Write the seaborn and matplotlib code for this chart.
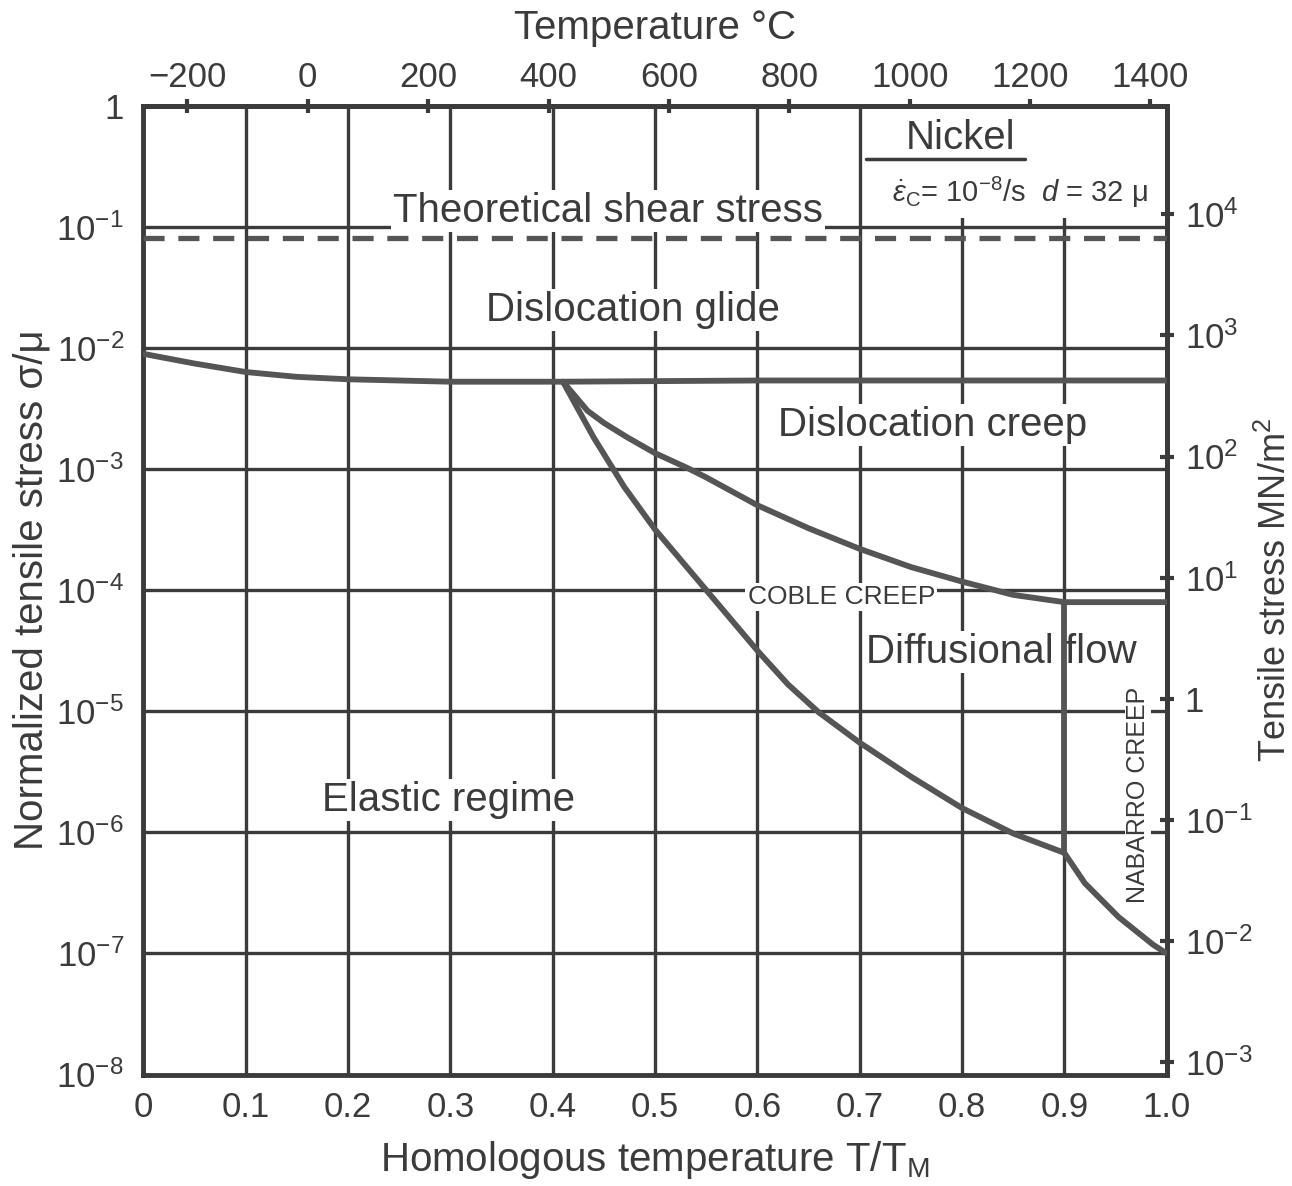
"""
Deformation mechanism map for nickel (Ashby type), redrawn with seaborn
"""

import matplotlib
matplotlib.use("Agg")
import matplotlib.pyplot as plt
import matplotlib.ticker as mticker
import pandas as pd
import seaborn as sns

# ---- data: homologous temperature T/TM and log10(sigma/mu) ----
glide_h = [0.0, 0.05, 0.1, 0.15, 0.2, 0.3, 0.41, 0.6, 0.8, 1.0]
glide_log = [-2.05, -2.13, -2.20, -2.24, -2.26, -2.28, -2.28, -2.27, -2.27, -2.27]

creep_h = [0.41, 0.42, 0.434, 0.45, 0.473, 0.5, 0.531, 0.55, 0.6, 0.65, 0.7, 0.75, 0.8, 0.85, 0.9, 1.0]
creep_log = [-2.28, -2.38, -2.52, -2.62, -2.74, -2.87, -2.99, -3.07, -3.30, -3.49, -3.66, -3.81, -3.93, -4.04, -4.10, -4.10]

diff_h = [0.41, 0.44, 0.47, 0.5, 0.53, 0.56, 0.6, 0.63, 0.66, 0.7,
          0.75, 0.8, 0.85, 0.9, 0.92, 0.953, 0.987, 1.0]
diff_log = [-2.28, -2.74, -3.15, -3.50, -3.80, -4.10, -4.50, -4.78, -5.01, -5.26,
            -5.54, -5.80, -6.01, -6.17, -6.42, -6.70, -6.93, -7.0]

nabarro_h = [0.9, 0.9]
nabarro_log = [-4.10, -6.17]

shear_h = [0.0, 1.0]
shear_log = [-1.09, -1.09]

# axes ticks
h_ticks = [0, 0.1, 0.2, 0.3, 0.4, 0.5, 0.6, 0.7, 0.8, 0.9, 1.0]
h_labels = ["0", "0.1", "0.2", "0.3", "0.4", "0.5", "0.6", "0.7", "0.8", "0.9", "1.0"]
norm_exp = [0, -1, -2, -3, -4, -5, -6, -7, -8]
temp_ticks = [-200, 0, 200, 400, 600, 800, 1000, 1200, 1400]
stress_exp = [4, 3, 2, 1, 0, -1, -2, -3]

TM = 1700.0    # melting point of nickel, K (approx.)
MU = 7.9e4     # shear modulus, MN/m^2

INK = "#3b3b3b"
CURVE = "#555555"

sns.set_theme(style="white")
plt.rcParams["font.family"] = ["Liberation Sans", "DejaVu Sans"]
plt.rcParams["mathtext.fontset"] = "custom"
plt.rcParams["mathtext.rm"] = "Liberation Sans"
plt.rcParams["mathtext.it"] = "Liberation Sans:italic"
plt.rcParams["text.color"] = INK
plt.rcParams["axes.labelcolor"] = INK
plt.rcParams["xtick.color"] = INK
plt.rcParams["ytick.color"] = INK


def exp_label(e):
    return "1" if e == 0 else f"$10^{{{e}}}$"


fig, ax = plt.subplots(figsize=(12.92, 11.86), dpi=100)
fig.subplots_adjust(left=0.111, right=0.903, bottom=0.094, top=0.911)

ax.set_yscale("log")
ax.set_xlim(0, 1.0)
ax.set_ylim(1e-8, 1)
ax.set_axisbelow(True)
ax.grid(True, which="major", color=INK, lw=2.4)

# boundaries
curves = pd.concat([
    pd.DataFrame({"h": glide_h, "s": [10 ** v for v in glide_log], "b": "glide"}),
    pd.DataFrame({"h": creep_h, "s": [10 ** v for v in creep_log], "b": "creep"}),
    pd.DataFrame({"h": diff_h, "s": [10 ** v for v in diff_log], "b": "diffusion"}),
    pd.DataFrame({"h": nabarro_h, "s": [10 ** v for v in nabarro_log], "b": "nabarro"}),
])
for name, grp in curves.groupby("b", sort=False):
    sns.lineplot(data=grp, x="h", y="s", ax=ax, color=CURVE, lw=4.2,
                 sort=False, estimator=None, zorder=4, legend=False,
                 solid_joinstyle="round", solid_capstyle="round")

sns.lineplot(x=shear_h, y=[10 ** v for v in shear_log], ax=ax, color=CURVE,
             lw=3.8, ls=(0, (4, 2.6)), zorder=4, legend=False)

# blank corner behind the material legend
ax.axvspan(0.706, 0.994, ymin=(8 - 0.93) / 8, ymax=0.996, color="white", lw=0, zorder=1)

# ticks, bottom / left
ax.set_xticks(h_ticks, labels=h_labels)
ax.set_yticks([10.0 ** e for e in norm_exp], labels=[exp_label(e) for e in norm_exp])
ax.yaxis.set_minor_locator(mticker.NullLocator())
ax.tick_params(axis="x", length=0, labelsize=25, pad=12)
ax.tick_params(axis="y", direction="in", length=9, width=2.5, labelsize=25, pad=14)
ax.set_xlabel("Homologous temperature T/T$_\\mathrm{M}$", fontsize=29, labelpad=11)
ax.set_ylabel("Normalized tensile stress σ/μ", fontsize=29, labelpad=4)

for sp in ax.spines.values():
    sp.set_visible(True)
    sp.set_color(INK)
    sp.set_linewidth(3.5)

# top: temperature in Celsius
top = ax.secondary_xaxis("top", functions=(lambda h: h * TM - 273.0,
                                           lambda c: (c + 273.0) / TM))
top.set_xticks(temp_ticks, labels=[str(t).replace("-", "\u2212") for t in temp_ticks])
top.tick_params(direction="inout", length=10, width=3, labelsize=25, pad=3)
top.set_xlabel("Temperature °C", fontsize=29, labelpad=16)
top.spines["top"].set_linewidth(3.5)
top.spines["top"].set_color(INK)

# right: tensile stress MN/m^2
right = ax.secondary_yaxis("right", functions=(lambda s: s * MU, lambda s: s / MU))
right.set_yticks([10.0 ** e for e in stress_exp], labels=[exp_label(e) for e in stress_exp])
right.yaxis.set_minor_locator(mticker.NullLocator())
right.tick_params(direction="inout", length=10, width=3, labelsize=25, pad=8)
right.set_ylabel("Tensile stress MN/m$^2$", fontsize=26, labelpad=4)
right.spines["right"].set_linewidth(3.5)
right.spines["right"].set_color(INK)

# region labels
box = dict(facecolor="white", edgecolor="none", pad=1.5)
ax.text(0.454, 10 ** -0.87, "Theoretical shear stress", fontsize=29,
        ha="center", va="center", bbox=box, zorder=3)
ax.text(0.478, 10 ** -1.69, "Dislocation glide", fontsize=29,
        ha="center", va="center", bbox=box, zorder=3)
ax.text(0.771, 10 ** -2.64, "Dislocation creep", fontsize=29,
        ha="center", va="center", bbox=box, zorder=3)
ax.text(0.682, 10 ** -4.06, "COBLE CREEP", fontsize=19,
        ha="center", va="center", bbox=box, zorder=3)
ax.text(0.838, 10 ** -4.51, "Diffusional flow", fontsize=29,
        ha="center", va="center", bbox=box, zorder=3)
ax.text(0.298, 10 ** -5.73, "Elastic regime", fontsize=29,
        ha="center", va="center", bbox=box, zorder=3)
ax.text(0.972, 10 ** -5.69, "NABARRO CREEP", fontsize=18, rotation=90,
        ha="center", va="center", bbox=dict(facecolor="white", edgecolor="none", pad=0.5),
        zorder=3)

# material legend
ax.text(0.799, 10 ** -0.27, "Nickel", fontsize=29, ha="center", va="center", zorder=3)
ax.axhline(10 ** -0.44, xmin=0.706, xmax=0.862, color=INK, lw=2.5, zorder=3)
ax.text(0.857, 10 ** -0.72, r"$\dot{\varepsilon}_\mathrm{C}$= 10$^{-8}$/s  $d$ = 32 μ",
        fontsize=21, ha="center", va="center", zorder=3)

fig.savefig("out.png", dpi=100)
plt.close(fig)
